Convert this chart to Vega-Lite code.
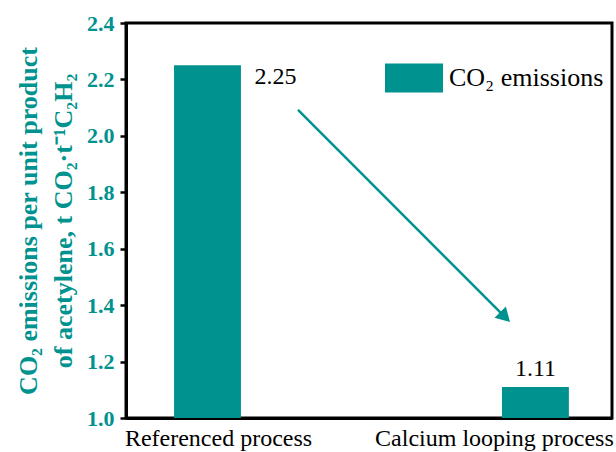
{
  "$schema": "https://vega.github.io/schema/vega-lite/v6.json",
  "width": 486,
  "height": 395,
  "autosize": {"type": "none"},
  "padding": {"left": 126, "top": 23, "right": 4, "bottom": 34},
  "config": {
    "font": "Liberation Serif",
    "view": {"stroke": "black", "strokeWidth": 3},
    "axis": {"grid": false, "labelFont": "Liberation Serif", "titleFont": "Liberation Serif"},
    "text": {"font": "Liberation Serif"}
  },
  "datasets": {
    "bars": [
      {"process": "Referenced process", "value": 2.25, "series": "CO₂ emissions"},
      {"process": "Calcium looping process", "value": 1.11, "series": "CO₂ emissions"}
    ],
    "arrow": [
      {"ax": 0.3539, "ay": 2.0917},
      {"ax": 0.78, "ay": 1.3576}
    ]
  },
  "layer": [
    {
      "data": {"name": "bars"},
      "encoding": {
        "x": {
          "field": "process", "type": "nominal", "sort": null,
          "scale": {"paddingInner": 0.796, "paddingOuter": 0.139, "align": 0.527},
          "axis": {
            "title": null, "labelAngle": 0, "labelFontSize": 24, "labelColor": "black",
            "labelFont": "Liberation Serif", "labelLimit": 0,
            "labelOffset": {"condition": {"test": "datum.value == 'Calcium looping process'", "value": -41}, "value": 11},
            "ticks": false, "domainColor": "black", "domainWidth": 3, "labelPadding": 8
          }
        },
        "y": {
          "field": "value", "type": "quantitative",
          "scale": {"domain": [1, 2.4], "zero": false, "nice": false},
          "axis": {
            "values": [1.0, 1.2, 1.4, 1.6, 1.8, 2.0, 2.2, 2.4],
            "format": ".1f",
            "labelFontSize": 22, "labelFontWeight": "bold", "labelColor": "#00928f",
            "labelPadding": 6,
            "tickSize": 6, "tickWidth": 2.5, "tickColor": "black",
            "domainColor": "black", "domainWidth": 3,
            "title": ["CO₂ emissions per unit product", "of acetylene, t CO₂·t⁻¹C₂H₂"],
            "titleFontSize": 26, "titleFontWeight": "bold", "titleColor": "#00928f",
            "titleLineHeight": 35, "titlePadding": 10
          }
        }
      },
      "layer": [
        {
          "mark": {"type": "bar"},
          "encoding": {
            "y2": {"datum": 1},
            "color": {
              "field": "series", "type": "nominal",
              "scale": {"range": ["#00928f"]},
              "legend": {
                "title": null, "orient": "none", "legendX": 259, "legendY": 26,
                "symbolType": "M-1,-0.5H1V0.5H-1Z", "symbolSize": 3364,
                "symbolStrokeWidth": 0, "symbolOpacity": 1,
                "labelFontSize": 26, "labelColor": "black", "labelOffset": 6,
                "labelFont": "Liberation Serif", "labelLimit": 0
              }
            }
          }
        },
        {
          "transform": [{"filter": "datum.value > 2"}],
          "mark": {"type": "text", "align": "left", "baseline": "alphabetic", "dx": 47, "dy": 19, "fontSize": 24, "font": "Liberation Serif", "color": "black"},
          "encoding": {
            "text": {"field": "value", "type": "quantitative", "format": ".2f"}
          }
        },
        {
          "transform": [{"filter": "datum.value < 2"}],
          "mark": {"type": "text", "align": "center", "baseline": "alphabetic", "dy": -11, "fontSize": 24, "font": "Liberation Serif", "color": "black"},
          "encoding": {
            "text": {"field": "value", "type": "quantitative", "format": ".2f"}
          }
        }
      ]
    },
    {
      "data": {"name": "arrow"},
      "encoding": {
        "x": {"field": "ax", "type": "quantitative", "scale": {"domain": [0, 1], "nice": false, "zero": false}, "axis": null},
        "y": {"field": "ay", "type": "quantitative"}
      },
      "layer": [
        {
          "mark": {"type": "line", "color": "#00928f", "strokeWidth": 2.5}
        },
        {
          "transform": [{"filter": "datum.ay < 1.5"}],
          "mark": {"type": "point", "shape": "triangle-up", "angle": 135, "size": 256, "filled": true, "opacity": 1, "color": "#00928f"}
        }
      ]
    }
  ],
  "resolve": {"scale": {"x": "independent"}}
}
